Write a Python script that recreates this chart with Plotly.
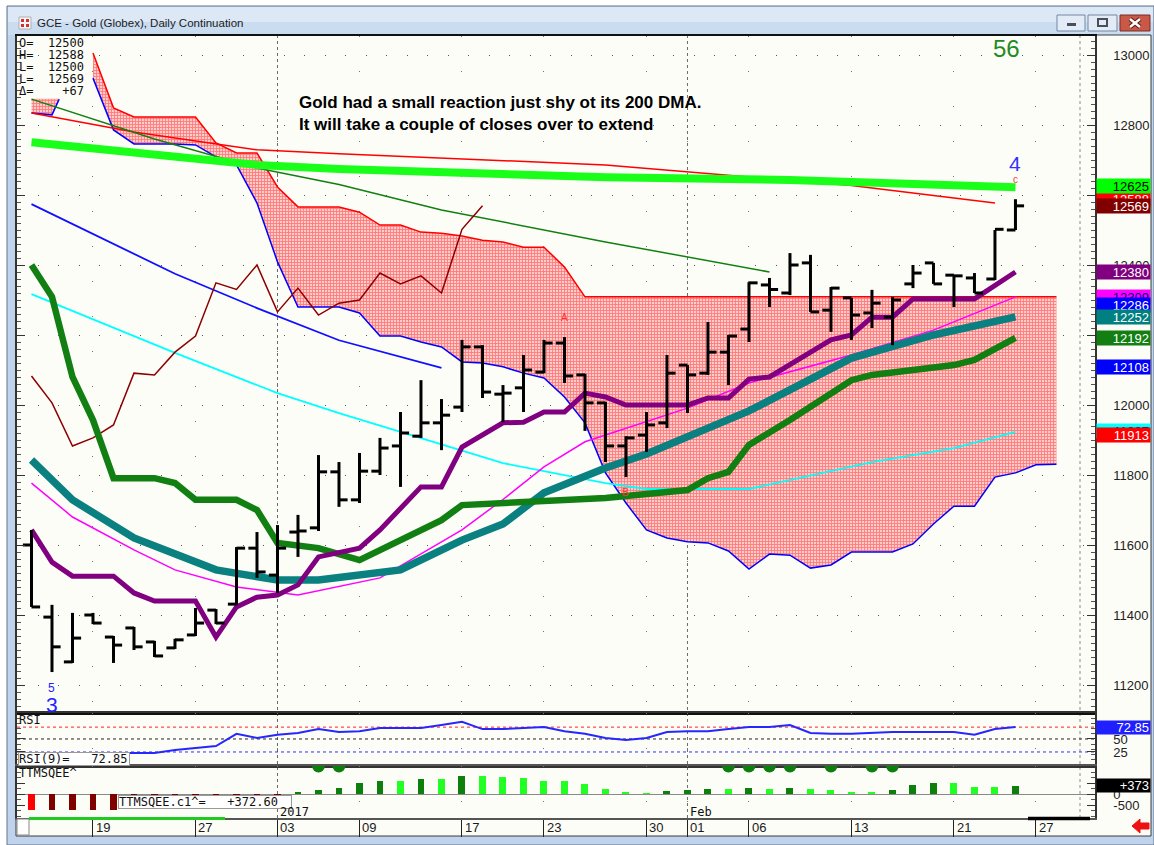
import plotly.graph_objects as go

W, H = 1154, 845


def px(x):
    return x / W


def py(y):
    return 1 - y / H


# ---------------- data ----------------
bar_idx = list(range(49))
tick_idx = [3, 8, 12, 16, 21, 25, 30, 32, 35, 40, 45, 49]
tick_txt = ["19", "27", "03", "09", "17", "23", "30", "01", "06", "13", "21", "27"]
month_idx = [12, 32]
month_txt = ["2017", "Feb"]

opens = [11600, 11394, 11266, 11400, 11337, 11363, 11323, 11306, 11343, 11414,
         11431, 11591, 11514, 11637, 11649, 11809, 11729, 11811, 11883, 11911,
         11949, 11994, 12166, 12031, 12049, 12094, 12177, 12086, 12006, 11883,
         11914, 11949, 12114, 12091, 12151, 12217, 12343, 12320, 12406, 12271,
         12306, 12263, 12251, 12346, 12406, 12371, 12363, 12360, 12500]
highs = [11643, 11429, 11406, 11406, 11340, 11366, 11326, 11332, 11420, 11417,
         11594, 11637, 11657, 11686, 11857, 11837, 11863, 11906, 11980, 12071,
         12017, 12186, 12171, 12057, 12143, 12186, 12194, 12089, 12009, 11911,
         11980, 12143, 12114, 12237, 12200, 12351, 12363, 12434, 12429, 12337,
         12306, 12329, 12309, 12400, 12406, 12371, 12377, 12500, 12588]
lows = [11423, 11237, 11263, 11374, 11263, 11300, 11280, 11303, 11340, 11374,
        11429, 11506, 11463, 11566, 11640, 11709, 11720, 11800, 11766, 11906,
        11871, 11980, 12020, 11951, 11980, 12091, 12063, 11926, 11837, 11794,
        11866, 11934, 11977, 12086, 12057, 12180, 12280, 12314, 12266, 12209,
        12186, 12220, 12171, 12334, 12346, 12280, 12320, 12357, 12500]
closes = [11423, 11309, 11334, 11377, 11314, 11309, 11283, 11329, 11377, 11377,
          11591, 11523, 11591, 11640, 11809, 11729, 11811, 11877, 11920, 11949,
          11971, 12166, 12037, 12034, 12100, 12177, 12083, 12006, 11883, 11906,
          11943, 12091, 12086, 12151, 12197, 12349, 12330, 12400, 12266, 12334,
          12257, 12291, 12300, 12377, 12346, 12369, 12320, 12502, 12569]

# Ichimoku cloud (displaced forward)
cloud_idx = list(range(3, 51))
span_a = [13006, 12849, 12823, 12823, 12823, 12823, 12749, 12720, 12720, 12623,
          12566, 12566, 12566, 12551, 12514, 12514, 12494, 12491, 12483, 12471,
          12466, 12451, 12451, 12394, 12309, 12309, 12309, 12309, 12309, 12309,
          12309, 12309, 12309, 12309, 12309, 12309, 12309, 12309, 12309, 12309,
          12309, 12309, 12309, 12309, 12309, 12309, 12309, 12309]
span_b = [12934, 12786, 12746, 12746, 12746, 12743, 12709, 12686, 12577, 12409,
          12280, 12280, 12280, 12263, 12197, 12197, 12180, 12166, 12123, 12120,
          12109, 12091, 12077, 12023, 11949, 11806, 11720, 11643, 11620, 11609,
          11606, 11583, 11531, 11574, 11571, 11534, 11543, 11580, 11580, 11580,
          11603, 11660, 11711, 11711, 11794, 11806, 11829, 11831]
kumo0_idx = [0, 1, 1.35]
kumo0_top = [12874, 12874, 12874]
kumo0_bot = [12834, 12829, 12874]
chikou_shift = 26

# moving averages / bands
ma200_x = [0, 11, 15, 28, 37, 48]
ma200_y = [12751, 12686, 12674, 12651, 12643, 12622]
red_x = [0, 5, 11, 15, 28, 40, 47]
red_y = [12834, 12780, 12729, 12718, 12686, 12627, 12577]
dkg_x = [0, 6, 11, 15, 20, 28, 36]
dkg_y = [12874, 12760, 12677, 12630, 12557, 12466, 12380]
blu_x = [0, 7, 11, 15, 20]
blu_y = [12574, 12375, 12277, 12185, 12106]
cyan_x = [0, 7, 12, 15, 23, 28, 30, 35, 41, 45, 48]
cyan_y = [12317, 12149, 12034, 11977, 11834, 11777, 11760, 11760, 11837, 11877, 11923]
mag_x = [0, 2, 5, 7, 10, 13, 17, 21, 23, 25, 27, 32, 35, 40, 44, 48]
mag_y = [11777, 11680, 11586, 11529, 11480, 11457, 11506, 11643, 11730, 11823,
         11895, 11991, 12063, 12143, 12214, 12309]
teal_x = [0, 2, 5, 9, 12, 14, 18, 21, 23, 25, 28, 30, 35, 40, 44, 48]
teal_y = [11843, 11729, 11620, 11529, 11500, 11500, 11529, 11614, 11660, 11749,
          11820, 11860, 11983, 12134, 12200, 12252]
grn_x = [0, 1, 2, 3, 4, 6, 7, 8, 10, 11, 12, 14, 16, 18, 20, 21, 25, 28, 32, 33,
         34, 35, 37, 40, 41, 45, 46, 47, 48]
grn_y = [12400, 12309, 12080, 11957, 11791, 11791, 11777, 11729, 11729, 11700,
         11606, 11591, 11557, 11614, 11671, 11714, 11723, 11734, 11757, 11791,
         11809, 11886, 11957, 12071, 12086, 12114, 12129, 12160, 12192]
pur_x = [0, 1, 2, 4, 5, 6, 8, 9, 10, 11, 12, 13, 14, 16, 17, 18, 19, 20, 21, 23,
         24, 25, 26, 27, 28, 29, 32, 33, 34, 35, 36, 39, 40, 41, 42, 43, 46, 48]
pur_y = [11643, 11551, 11511, 11511, 11463, 11440, 11440, 11337, 11423, 11451,
         11457, 11486, 11566, 11591, 11643, 11706, 11766, 11766, 11880, 11949,
         11951, 11980, 11980, 12034, 12023, 12000, 12000, 12020, 12020, 12074,
         12080, 12186, 12200, 12251, 12251, 12303, 12303, 12380]

rsi_vals = [23, 23, 23, 23, 23, 23, 23, 29, 33, 36.5, 60, 52, 58, 61.5, 69, 63.5,
            65, 71, 71, 71, 77, 83, 69, 69, 71, 73, 65, 60, 52, 48, 52, 63.5, 65,
            65, 69, 73, 73, 77, 61.5, 60, 60, 61.5, 63.5, 63.5, 63.5, 63.5, 58, 69,
            72.85]
ttm_vals = [-727, -727, -727, -727, -727, -500, -450, -400, -350, -300, -200, -100,
            -50, 50, 182, 273, 500, 590, 590, 680, 680, 818, 815, 773, 727, 590,
            590, 455, 227, 91, 45, 136, 182, 227, 227, 273, 227, 273, 227, 182, 91,
            91, 182, 409, 500, 500, 318, 318, 372.6]
squeeze_idx = [14, 15, 34, 35, 36, 37, 39, 41, 42]

y_ticks = [11200, 11400, 11600, 11800, 12000, 12200, 12400, 12600, 12800, 13000]
rsi_ticks = [50, 25]
ttm_ticks = [500, 0, -500]
price_tags = [12588, 12625, 12569, 12380, 12309, 12286, 12252, 12192, 12108, 11927, 11913]

# ---------------- styles ----------------
FONT = "Liberation Sans"
MONO = "DejaVu Sans Mono"
tag_styles = [("#ff0000", "white"), ("#00ff00", "black"), ("#800000", "white"),
              ("#800080", "white"), ("#ff00ff", "#000080"), ("#0000ff", "white"),
              ("#008080", "white"), ("#137f13", "white"), ("#0000ff", "white"),
              ("#00ffff", "#000080"), ("#ff0000", "white")]

XR = [-0.707, 51.88]
MAIN_R = [11120, 13054.3]
RSI_R = [-2, 100]
TTM_R = [-1091, 1273]
TICK = 0.42  # half-width of open/close ticks, in bar units

fig = go.Figure()


def line(x, y, color, width, xa="x", ya="y", **kw):
    fig.add_trace(go.Scatter(x=x, y=y, mode="lines", line=dict(color=color, width=width),
                             xaxis=xa, yaxis=ya, hoverinfo="skip", **kw))


pattern = dict(shape="+", fgcolor="#ff2a2a", bgcolor="#ffcccc", size=3, solidity=0.5)

# cloud
line(kumo0_idx, kumo0_bot, "#0000ff", 1.5)
line(kumo0_idx, kumo0_top, "#ff8080", 0.5, fill="tonexty", fillpattern=pattern)
line(cloud_idx, span_b, "#0000ff", 1.5)
line(cloud_idx, span_a, "#ff0000", 1.5, fill="tonexty", fillpattern=pattern)

# thin lines
line(red_x, red_y, "#ff0000", 1.5)
line(dkg_x, dkg_y, "#108010", 1.5)
line(blu_x, blu_y, "#1010ff", 1.8)
line(cyan_x, cyan_y, "#00ffff", 1.8)
line(mag_x, mag_y, "#ff00ff", 1.5)
chik_x = [i - chikou_shift for i in bar_idx if i >= chikou_shift]
chik_y = [closes[i] for i in bar_idx if i >= chikou_shift]
line(chik_x, chik_y, "#8b0000", 1.5)

# thick lines
line(ma200_x, ma200_y, "#1aff1a", 8)
line(teal_x, teal_y, "#0b8080", 7.5)
line(grn_x, grn_y, "#127f12", 6.5)
line(pur_x, pur_y, "#800080", 5)

# price bars (OHLC drawn as line segments on the price scale, on top of everything)
bx, by = [], []
for i, o, h, l, c in zip(bar_idx, opens, highs, lows, closes):
    bx += [i - TICK, i, None, i, i, None, i, i + TICK, None]
    by += [o, o, None, h, l, None, c, c, None]
fig.add_trace(go.Scatter(x=bx, y=by, mode="lines", line=dict(color="black", width=3),
                         connectgaps=False, hoverinfo="skip", xaxis="x", yaxis="y"))

# RSI
line(bar_idx, rsi_vals, "#2626ff", 2, xa="x2", ya="y2")

# TTM squeeze histogram
ttm_colors = []
for i, v in enumerate(ttm_vals):
    prev = ttm_vals[i - 1] if i > 0 else None
    if v < 0:
        ttm_colors.append("#ff0000" if prev is None or v < prev else "#800000")
    else:
        ttm_colors.append("#0c7f0c" if prev is not None and v > prev else "#22ff22")
fig.add_trace(go.Bar(x=bar_idx, y=ttm_vals, marker=dict(color=ttm_colors, line=dict(width=0)),
                     width=0.34, xaxis="x3", yaxis="y3", hoverinfo="skip"))
fig.add_trace(go.Scatter(x=squeeze_idx, y=[TTM_R[1]] * len(squeeze_idx), mode="markers",
                         marker=dict(color="#0c7f0c", size=13), xaxis="x3", yaxis="y3",
                         hoverinfo="skip", cliponaxis=True))

# ---------------- annotations ----------------
ann = []


def text(x, y, s, size=12, color="#000", family=FONT, xanchor="left", yanchor="middle",
         xref="paper", yref="paper", **kw):
    ann.append(dict(x=x, y=y, text=s, xref=xref, yref=yref, xanchor=xanchor,
                    yanchor=yanchor, showarrow=False,
                    font=dict(size=size, color=color, family=family), **kw))


text(px(35), py(23.5), "GCE - Gold (Globex), Daily Continuation", 11.5, "#1b1b1b")
text(px(297), py(91), "<b>Gold had a small reaction just shy ot its 200 DMA.<br>"
     "It will take a couple of closes over to extend</b>", 17, "#000", yanchor="top", align="left")

ohlc_rows = [("O=", f"  {opens[-1]}"), ("H=", f"  {highs[-1]}"), ("L=", f"  {lows[-1]}"),
             ("L=", f"  {closes[-1]}"), ("Δ=", f"    {closes[-1] - closes[-2]:+d}")]
for k, (lab, val) in enumerate(ohlc_rows):
    text(px(17), py(43 + 12 * k), lab + val, 12, "#111", MONO)

text(px(1006), py(48), "56", 24, "#228b22", xanchor="center")
text(48, 12691, "4", 21, "#3232ff", xanchor="center", xref="x", yref="y")
text(48, 12645, "c", 10, "#ff3b3b", xanchor="center", xref="x", yref="y")
text(26, 12249, "A", 10, "#ff3030", xanchor="center", xref="x", yref="y")
text(29, 11751, "B", 10, "#ff3030", xanchor="center", xref="x", yref="y")
text(1, 11191, "5", 12, "#2222ff", xanchor="center", xref="x", yref="y")
text(1, 11143, "3", 21, "#2222ff", xanchor="center", xref="x", yref="y")

# panel labels
text(px(17), py(720), "RSI", 12, "#111", MONO)
text(px(18), py(758.5), f"RSI(9)=   {rsi_vals[-1]:.2f}", 12, "#111", MONO,
     bgcolor="white", bordercolor="#999", borderwidth=1, borderpad=0, height=12, width=110,
     align="left")
text(px(17), py(773), "TTMSQEE^", 12, "#111", MONO)
text(px(118), py(801.5), f"TTMSQEE.c1^=   {ttm_vals[-1]:+.2f}", 12, "#111", MONO,
     bgcolor="white", bordercolor="#999", borderwidth=1, borderpad=0, height=12, width=172,
     align="left")
for mi, mt in zip(month_idx, month_txt):
    text(mi, py(812), mt, 12, "#111", MONO, xref="x3", xshift=1)

# date labels
for ti, tt in zip(tick_idx, tick_txt):
    text(ti, py(827), tt, 13, "#1a1a1a", xref="x3", xshift=1)

# right-side value tags
for v, (bg, fc) in zip(price_tags, tag_styles):
    text(px(1096), v, str(v), 13, fc, yref="y", bgcolor=bg, width=51, height=12,
         borderpad=1, align="right")
text(px(1096), rsi_vals[-1], f"{rsi_vals[-1]:.2f}", 13, "white", yref="y2", bgcolor="#1f1fff",
     width=51, height=11, borderpad=1, align="right")
text(px(1096), ttm_vals[-1], f"{ttm_vals[-1]:+.0f}", 13, "white", yref="y3", bgcolor="#000",
     width=51, height=11, borderpad=1, align="right")

# ---------------- shapes ----------------
shapes = []


def rect(x0, y0, x1, y1, fill, line_c=None, lw=1, layer="below"):
    shapes.append(dict(type="rect", xref="paper", yref="paper", x0=px(x0), x1=px(x1),
                       y0=py(y1), y1=py(y0), fillcolor=fill,
                       line=dict(color=line_c or fill, width=lw if line_c else 0), layer=layer))


def seg(x0, y0, x1, y1, color, width, dash="solid", layer="above", xref="paper", yref="paper"):
    shapes.append(dict(type="line", xref=xref, yref=yref, x0=x0, x1=x1, y0=y0, y1=y1,
                       line=dict(color=color, width=width, dash=dash), layer=layer))


# window frame
rect(7, 6, 1154, 845, "#bfd4ec", "#62748a", 1)
rect(8, 7, 1153, 22, "#dce8f6")
rect(8, 22, 1153, 35, "#cadcf0")
rect(16, 35, 1151, 836, "#fdfdf8", "#3a3a3a", 1)
# app icon
rect(19, 17, 31, 29, "#f6f6f6", "#b0b0b0", 1, "above")
for ix, iy in [(21, 19), (26, 19), (21, 24), (26, 24)]:
    rect(ix, iy, ix + 3, iy + 3, "#d43030", layer="above")
# window buttons
rect(1057, 15, 1085, 31, "#e2ebf6", "#7388a3", 1, "above")
rect(1067, 23, 1076, 26, "#4a4f58", layer="above")
rect(1088, 15, 1117, 31, "#e2ebf6", "#7388a3", 1, "above")
rect(1098, 19, 1107, 26, "#e2ebf6", "#4a4f58", 2, "above")
rect(1120, 15, 1150, 31, "#c95847", "#7a2c24", 1, "above")
seg(px(1130), py(19), px(1140), py(27), "#5a1a14", 4.5)
seg(px(1140), py(19), px(1130), py(27), "#5a1a14", 4.5)
seg(px(1130), py(19), px(1140), py(27), "white", 2.5)
seg(px(1140), py(19), px(1130), py(27), "white", 2.5)

# bottom strip
rect(17, 819, 29, 835, "white", "#888", 1, "above")
seg(px(29), py(818.5), px(225), py(818.5), "#1ecb1e", 3)
seg(px(1028), py(818.5), px(1090), py(818.5), "#000", 3.5)
arrow = [(1132, 826), (1140, 819), (1140, 823), (1149, 823), (1149, 829), (1140, 829), (1140, 833)]
path = "M " + " L ".join(f"{px(a):.5f},{py(b):.5f}" for a, b in arrow) + " Z"
shapes.append(dict(type="path", xref="paper", yref="paper", path=path, fillcolor="#ee1111",
                   line=dict(color="#ee1111", width=1), layer="above"))

# month separators and right guide
for mi in month_idx:
    seg(mi, py(818), mi, py(36), "#6a6a6a", 1, "dot", "below", xref="x")
seg(px(1080), py(818), px(1080), py(36), "#8a8a8a", 1, "dot", "below")

# RSI levels
seg(px(17), rsi_vals[-1], px(1095), rsi_vals[-1], "#ff2020", 1, "dot", "below", yref="y2")
seg(px(17), 50, px(1095), 50, "#222", 1, "dot", "below", yref="y2")
seg(px(17), 25, px(1095), 25, "#3030ff", 1, "dot", "below", yref="y2")

# ---------------- layout ----------------
xdom = [px(17), px(1095)]
xbase = dict(domain=xdom, range=XR, showgrid=True, gridcolor="#777", griddash="1px,34px",
             gridwidth=1, zeroline=False, showline=True, linecolor="#111", linewidth=2,
             mirror=True, tickmode="array", tickvals=tick_idx, showticklabels=False,
             fixedrange=True)
ybase = dict(side="right", showline=True, linecolor="#333", linewidth=1.5, mirror="ticks",
             ticks="inside", ticklen=8, tickcolor="#333", zeroline=False, fixedrange=True,
             tickfont=dict(family=FONT, size=13, color="#222"), ticklabelstandoff=14)

fig.update_layout(
    width=W, height=H, margin=dict(l=0, r=0, t=0, b=0),
    paper_bgcolor="white", plot_bgcolor="#fdfdf8", showlegend=False, hovermode=False,
    bargap=0,
    xaxis=dict(xbase, anchor="y", ticks=""),
    xaxis2=dict(xbase, anchor="y2", matches="x", ticks="", linecolor="#333"),
    xaxis3=dict(xbase, anchor="y3", matches="x", ticks="outside", ticklen=17,
                tickcolor="#222", tickwidth=1, linecolor="#555"),
    yaxis=dict(ybase, domain=[py(713), py(36)], range=MAIN_R, anchor="x",
               tickmode="array", tickvals=y_ticks, ticktext=[str(t) for t in y_ticks],
               showgrid=True, gridcolor="#555", griddash="1px,19.5px",
               minor=dict(ticks="inside", ticklen=4, dtick=20, tick0=11200, tickcolor="#555",
                          showgrid=False)),
    yaxis2=dict(ybase, domain=[py(766), py(713)], range=RSI_R, anchor="x2",
                tickmode="array", tickvals=rsi_ticks, ticktext=[str(t) for t in rsi_ticks],
                showgrid=False,
                minor=dict(ticks="inside", ticklen=4, dtick=10, tickcolor="#555")),
    yaxis3=dict(ybase, domain=[py(818), py(766)], range=TTM_R, anchor="x3",
                tickmode="array", tickvals=ttm_ticks, ticktext=[str(t) for t in ttm_ticks],
                showgrid=False, zeroline=True, zerolinecolor="#8a8a8a", zerolinewidth=1,
                minor=dict(ticks="inside", ticklen=4, dtick=250, tickcolor="#555")),
    annotations=ann,
    shapes=shapes,
)

fig.write_html("out.html", config={"displayModeBar": False})
